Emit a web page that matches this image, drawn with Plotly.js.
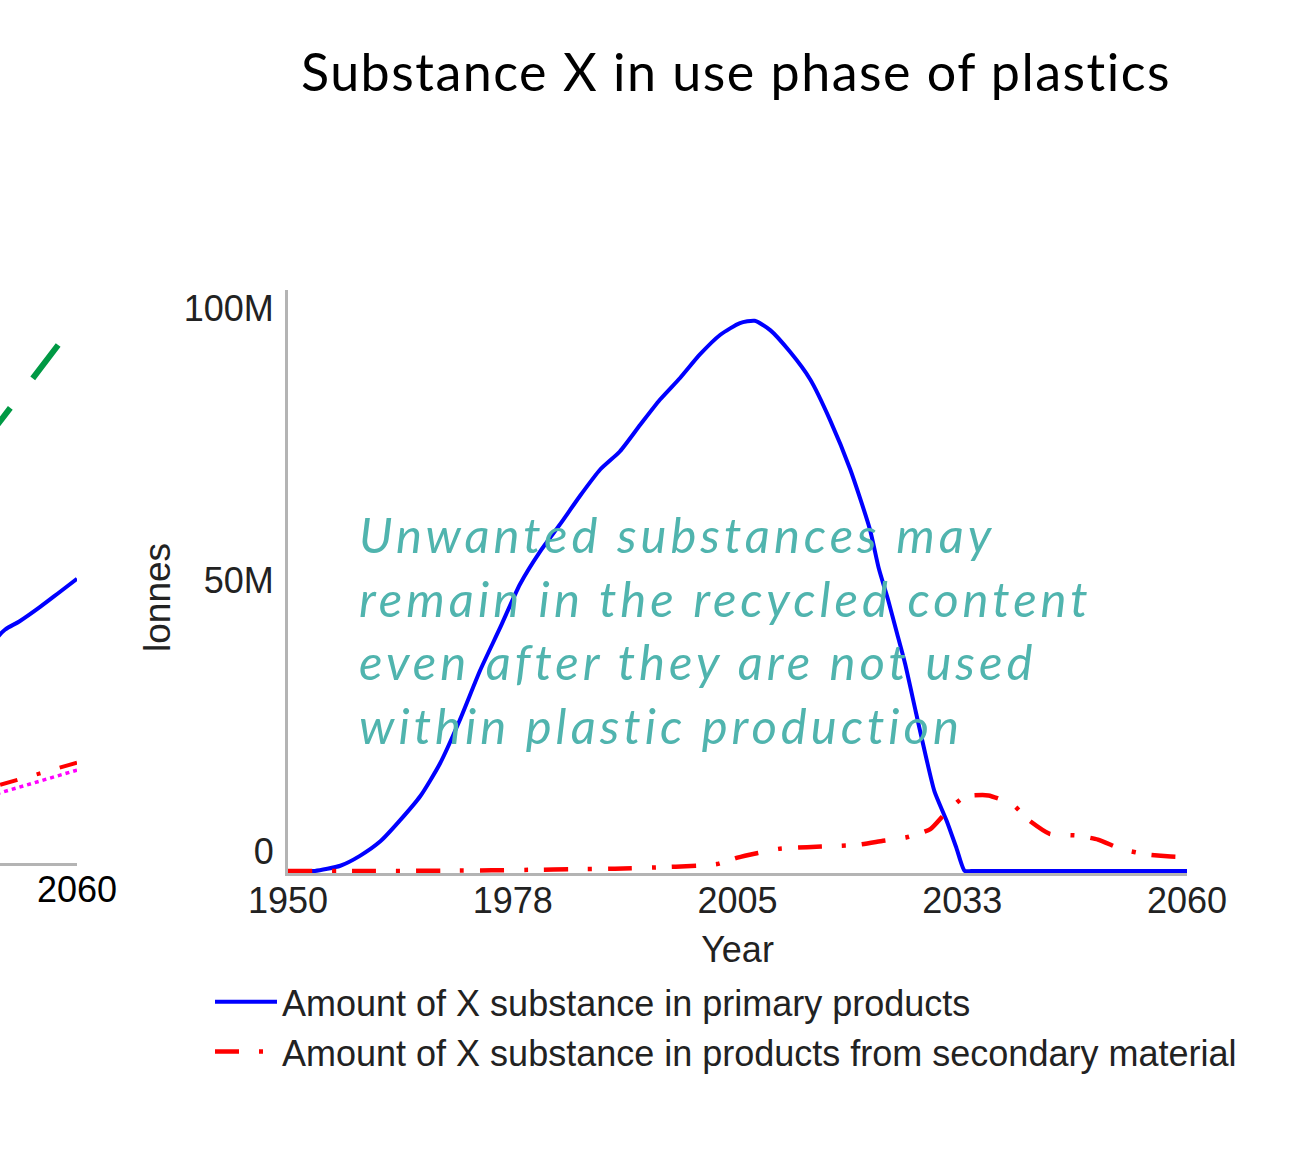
<!DOCTYPE html>
<html>
<head>
<meta charset="utf-8">
<script src="https://cdn.plot.ly/plotly-3.0.1.min.js"></script>
<style>
  html, body { margin: 0; padding: 0; background: #ffffff; }
  #chart { width: 1293px; height: 1161px; }
  #chart .annotation-text.note { letter-spacing: 4px; }
  #chart .gtitle { letter-spacing: 1.5px; }
</style>
</head>
<body>
<div id="chart"></div>
<script>
// ---- Main chart data (million tonnes) ----
const primaryYears = [1950, 1952, 1953.3, 1956.4, 1958.8, 1961.3, 1963.7, 1966.2, 1968.6, 1971.0, 1973.5,
  1975.9, 1978.4, 1980.8, 1983.3, 1985.7, 1988.2, 1990.6, 1993.1, 1995.5, 1998.0,
  2000.4, 2002.9, 2005.3, 2007.1, 2009.0, 2011.4, 2013.9, 2016.3, 2018.8, 2021.2,
  2022.3, 2023.4, 2024.5, 2025.5, 2026.8, 2028.1, 2029.1, 2030.6, 2031.8, 2032.8,
  2033.6, 2036, 2045, 2060];
const primaryMt = [0, 0, 0, 0.9, 2.6, 5.1, 8.7, 12.9, 18.5, 25.9, 34.5,
  41.7, 49.4, 54.9, 59.7, 64.5, 69.1, 72.2, 76.8, 81.1, 84.9,
  88.9, 92.3, 94.3, 94.7, 93.1, 89.4, 84.6, 77.7, 69.1, 58.8,
  52.0, 46.8, 41.0, 35.7, 27.5, 19.4, 13.7, 8.6, 3.9, 0,
  0, 0, 0, 0];

const secondaryYears = [1950, 1960, 1970, 1980, 1985, 1990, 1995, 2000, 2002.5, 2005,
  2007.5, 2010, 2013.5, 2017, 2019.7, 2022.8, 2025.7, 2028.6, 2030.6, 2032.8,
  2035.7, 2038.7, 2040.6, 2043.2, 2046.5, 2049.1, 2052.1, 2055.3, 2058, 2060];
const secondaryMt = [0, 0, 0.05, 0.2, 0.3, 0.4, 0.6, 0.9, 1.2, 2.3,
  3.1, 3.8, 4.1, 4.3, 4.5, 5.2, 5.8, 7.2, 10.2, 12.8,
  13.0, 11.4, 8.8, 6.4, 6.1, 5.4, 3.7, 2.8, 2.5, 2.4];

const xTickVals = [1950, 1977.5, 2005, 2032.5, 2060];
const xTickText = ["1950", "1978", "2005", "2033", "2060"];
const yTickText = ["0", "50M", "100M"];

// ---- Neighbouring (cut-off) chart on the left, arbitrary units ----
const leftYears = [2050, 2051.2, 2053.0, 2055.5, 2057.9, 2060];
const leftBlue = [38.9, 40.7, 42.2, 44.7, 47.3, 49.6];
const leftGreenYears = [2057.7, 2049.5];
const leftGreen = [90.4, 75.0];
const leftRedYears = [2060, 2050];
const leftRed = [17.5, 13.4];
const leftMagentaYears = [2060, 2050];
const leftMagenta = [16.2, 12.0];

const seriesNames = ["Amount of X substance in primary products",
  "Amount of X substance in products from secondary material"];

const M = 1e6;
const toT = a => a.map(v => v * M);

const axisFont = {family: "Liberation Sans, Arial, sans-serif", size: 36, color: "#222222"};

const traces = [
  {x: leftGreenYears, y: leftGreen, xaxis: "x2", yaxis: "y2", mode: "lines", showlegend: false,
   line: {color: "#009944", width: 6, dash: "42px,37px"}, hoverinfo: "skip"},
  {x: leftYears, y: leftBlue, xaxis: "x2", yaxis: "y2", mode: "lines", showlegend: false,
   line: {color: "#0000ff", width: 4, shape: "spline"}, hoverinfo: "skip"},
  {x: leftMagentaYears, y: leftMagenta, xaxis: "x2", yaxis: "y2", mode: "lines", showlegend: false,
   line: {color: "#ff00ff", width: 3.5, dash: "4px,4px"}, hoverinfo: "skip"},
  {x: leftRedYears, y: leftRed, xaxis: "x2", yaxis: "y2", mode: "lines", showlegend: false,
   line: {color: "#ff0000", width: 4, dash: "18px,20px,4px,20px"}, hoverinfo: "skip"},
  {x: primaryYears, y: toT(primaryMt), name: seriesNames[0], mode: "lines",
   line: {color: "#0000ff", width: 4, shape: "spline", smoothing: 0.6}},
  {x: secondaryYears, y: toT(secondaryMt), name: seriesNames[1], mode: "lines",
   line: {color: "#ff0000", width: 4.5, dash: "24px,20px,4px,16px", shape: "spline", smoothing: 0.5}}
];

const PW = 1187; // paper width (margin.l = 0, margin.r = 106)

const layout = {
  width: 1293, height: 1161,
  paper_bgcolor: "#ffffff", plot_bgcolor: "rgba(0,0,0,0)",
  margin: {l: 0, r: 106, t: 290, b: 288},
  showlegend: true,
  title: {
    text: "Substance X in use phase of plastics",
    font: {family: "Lato, Noto Sans, sans-serif", size: 52, color: "#000000"},
    x: 736 / 1293, xanchor: "center", xref: "container",
    y: 1 - 73 / 1161, yanchor: "middle", yref: "container"
  },
  xaxis: {
    domain: [288 / PW, 1], range: [1950, 2060],
    showline: true, linecolor: "#b4b4b4", linewidth: 3,
    showgrid: false, zeroline: false, ticks: "",
    tickvals: xTickVals, ticktext: xTickText, tickfont: axisFont,
    ticklabelstandoff: -6,
    title: {text: "Year", font: axisFont, standoff: 17},
    automargin: false, fixedrange: true
  },
  yaxis: {
    domain: [0, 1], range: [-0.35 * M, 100 * M],
    showline: true, linecolor: "#b4b4b4", linewidth: 3,
    showgrid: false, zeroline: false, ticks: "",
    tickvals: [3.3 * M, 50 * M, 96.9 * M], ticktext: yTickText, tickfont: axisFont,
    ticklabelstandoff: 4,
    automargin: false, fixedrange: true
  },
  xaxis2: {
    domain: [0, 77 / PW], range: [2050.6, 2060], anchor: "y2",
    showline: true, linecolor: "#b4b4b4", linewidth: 3,
    showgrid: false, zeroline: false, ticks: "",
    tickvals: [2060], ticktext: ["2060"],
    tickfont: {family: "Liberation Sans, Arial, sans-serif", size: 36, color: "#000000"},
    ticklabelstandoff: -7, automargin: false, fixedrange: true
  },
  yaxis2: {
    domain: [10 / 583, 1], range: [0, 100], anchor: "x2",
    visible: false, fixedrange: true
  },
  legend: {
    x: 210 / PW, xanchor: "left", y: -0.1694, yanchor: "top",
    orientation: "v", bgcolor: "rgba(0,0,0,0)", borderwidth: 0,
    font: {family: "Liberation Sans, Arial, sans-serif", size: 36, color: "#222222"},
    itemwidth: 62, tracegroupgap: 0
  },
  annotations: [
    {
      text: "lonnes", textangle: -90,
      xref: "paper", yref: "paper", x: 157 / PW, y: (873 - 598) / 583,
      xanchor: "center", yanchor: "middle", showarrow: false,
      font: {family: "Liberation Sans, Arial, sans-serif", size: 37, color: "#222222"}
    },
    {
      text: "Unwanted substances may<br>remain in the recycled content<br>even after they are not used<br>within plastic production",
      xref: "paper", yref: "paper", x: 357 / PW, y: (873 - 629) / 583,
      xanchor: "left", yanchor: "middle", align: "left", showarrow: false,
      font: {family: "Lato, Noto Sans, sans-serif", size: 49, color: "#50b4ae", style: "italic"}
    }
  ]
};

Plotly.newPlot("chart", traces, layout, {displayModeBar: false, staticPlot: true}).then(function () {
  const notes = document.querySelectorAll("#chart .annotation-text");
  notes.forEach(function (t) { if (t.textContent.indexOf("Unwanted") === 0) t.classList.add("note"); });
});
</script>
</body>
</html>
